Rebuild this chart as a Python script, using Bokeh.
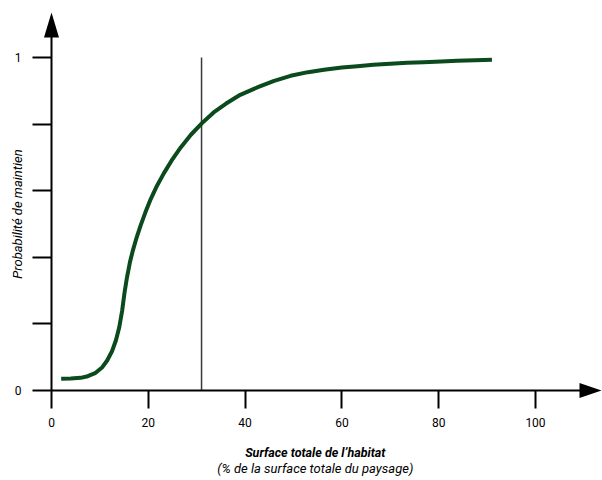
import math
from bokeh.plotting import figure
from bokeh.models import LinearAxis, FixedTicker, Range1d, Label
from bokeh.embed import file_html
from bokeh.resources import INLINE

# ---- data ----
surface = [2, 4, 6, 7.5, 9, 10.5, 11.5, 12.5, 13.3, 14, 14.6, 15.1, 15.6, 16.2,
           16.8, 17.5, 18.4, 19.4, 20.5, 21.8, 23.2, 24.8, 26.7, 28.8, 31.1,
           33.5, 36, 39, 42.5, 46, 49.4, 53, 56.3, 60, 63.2, 66.5, 70, 73.5,
           76.9, 80.5, 83.8, 87.5, 91]
probabilite = [0.035, 0.036, 0.038, 0.043, 0.052, 0.07, 0.09, 0.118, 0.15, 0.19,
               0.24, 0.295, 0.34, 0.385, 0.42, 0.455, 0.495, 0.535, 0.575,
               0.615, 0.652, 0.69, 0.73, 0.768, 0.803, 0.835, 0.861, 0.888,
               0.91, 0.93, 0.945, 0.956, 0.963, 0.97, 0.974, 0.978, 0.981,
               0.984, 0.986, 0.988, 0.990, 0.992, 0.993]
seuil = 31
seuil_haut = 1.0
x_ticks = [0, 20, 40, 60, 80, 100]
y_ticks = [0, 0.2, 0.4, 0.6, 0.8, 1]
y_tick_labels = {0: "0", 0.2: "", 0.4: "", 0.6: "", 0.8: "", 1: "1"}
x_title = "Surface totale de l\u2019habitat"
x_subtitle = "(% de la surface totale du paysage)"
y_title = "Probabilit\u00e9 de maintien"

# ---- layout ----
W, H = 602, 480
X0_PX, Y0_PX = 51, 390      # canvas position of the origin
PX_X, PX_Y = 4.84, 333.0    # pixels per data unit
x_start, x_end = -X0_PX / PX_X, (W - X0_PX) / PX_X
y_start, y_end = -(H - Y0_PX) / PX_Y, Y0_PX / PX_Y
y_axis_end = (Y0_PX - 12) / PX_Y
x_axis_end = (W - 1 - X0_PX) / PX_X

FONT = "Roboto"
CURVE = "#0a4a1c"

p = figure(width=W, height=H, x_range=Range1d(x_start, x_end),
           y_range=Range1d(y_start, y_end), output_backend="svg",
           toolbar_location=None, min_border=0, x_axis_type=None,
           y_axis_type=None)
p.outline_line_color = None
p.background_fill_color = "white"
p.border_fill_color = "white"

# axes
xa = LinearAxis(fixed_location=0, ticker=FixedTicker(ticks=x_ticks),
                bounds=(0, x_axis_end - 2))
xa.axis_line_width = 2
xa.major_tick_line_width = 2
xa.major_tick_out = 18
xa.major_tick_in = 0
xa.minor_tick_line_color = None
xa.major_label_standoff = 9
xa.major_label_text_font = FONT
xa.major_label_text_font_size = "12px"
xa.major_label_text_color = "black"
p.add_layout(xa, "below")

ya = LinearAxis(fixed_location=0, ticker=FixedTicker(ticks=y_ticks),
                bounds=(0, y_axis_end - 0.02),
                major_label_overrides=y_tick_labels)
ya.axis_line_width = 2
ya.major_tick_line_width = 2
ya.major_tick_out = 19
ya.major_tick_in = 0
ya.minor_tick_line_color = None
ya.major_label_standoff = 11
ya.major_label_text_font = FONT
ya.major_label_text_font_size = "12px"
ya.major_label_text_color = "black"
p.add_layout(ya, "left")

# arrow heads (computed from the axis ends)
hl_y, hw_y = 25 / PX_Y, 7.5 / PX_X
p.patch([0, -hw_y, hw_y], [y_axis_end, y_axis_end - hl_y, y_axis_end - hl_y],
        color="black", line_width=0)
hl_x, hw_x = 22 / PX_X, 7.5 / PX_Y
p.patch([x_axis_end, x_axis_end - hl_x, x_axis_end - hl_x], [0, hw_x, -hw_x],
        color="black", line_width=0)

# threshold line
p.segment(x0=[seuil], y0=[0], x1=[seuil], y1=[seuil_haut],
          line_color="#3a3a3a", line_width=1.5)

# curve
p.line(surface, probabilite, line_color=CURVE, line_width=4,
       line_join="round", line_cap="butt")

# titles
p.add_layout(Label(x=-34 / PX_X, y=0.53, text=y_title, angle=math.pi / 2,
                   text_align="center", text_baseline="middle",
                   text_font=FONT, text_font_style="italic",
                   text_font_size="13px", text_color="black"))
p.add_layout(Label(x=54.5, y=-62 / PX_Y, text=x_title, text_align="center",
                   text_baseline="middle", text_font=FONT,
                   text_font_style="bold italic", text_font_size="12.5px",
                   text_color="black"))
p.add_layout(Label(x=54.5, y=-78 / PX_Y, text=x_subtitle, text_align="center",
                   text_baseline="middle", text_font=FONT,
                   text_font_style="italic", text_font_size="13px",
                   text_color="black"))

open("out.html", "w").write(file_html(p, INLINE))
